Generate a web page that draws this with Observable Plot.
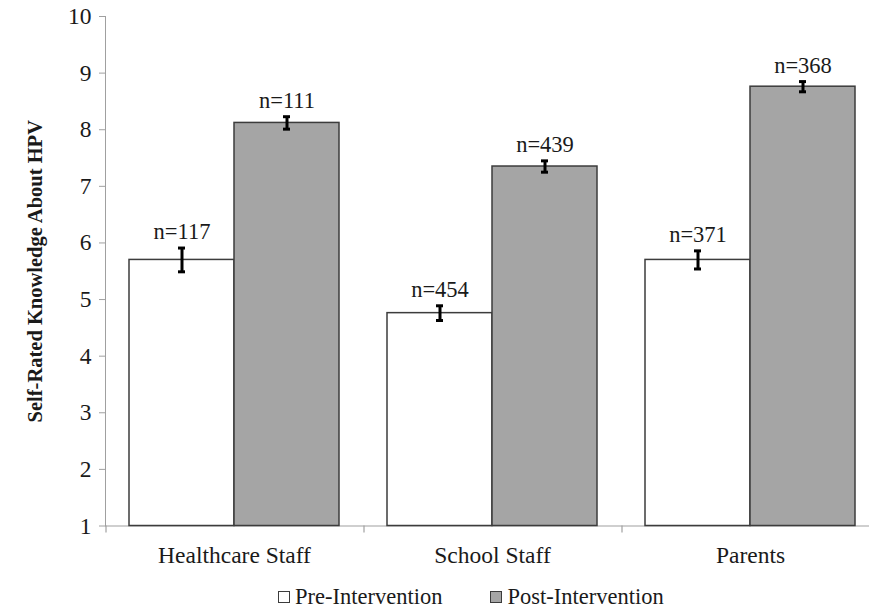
<!DOCTYPE html>
<html>
<head>
<meta charset="utf-8">
<script src="https://cdn.jsdelivr.net/npm/d3@7"></script>
<script src="https://cdn.jsdelivr.net/npm/@observablehq/plot@0.6"></script>
<style>
  html, body { margin: 0; padding: 0; background: #fff; overflow: hidden; }
  #chart svg text { fill: #1a1a1a; }
  #chart svg g[aria-label="y-axis label"] text { font-weight: bold; font-size: 20.5px; }
  #legend { display: flex; align-items: center; padding-left: 278px; margin-top: 13px; height: 24px;
            font-family: "Liberation Serif", "Times New Roman", serif; font-size: 22.5px; color: #1a1a1a; }
  #legend .item { display: flex; align-items: center; }
  #legend .box { width: 12px; height: 12px; border: 1px solid #3c3c3c; margin-right: 5px; box-sizing: border-box; }
</style>
</head>
<body>
<div id="chart"></div>
<div id="legend"></div>
<script>
const categories = ["Healthcare Staff", "School Staff", "Parents"];
const groups = ["Pre-Intervention", "Post-Intervention"];
const preMeans = [5.70, 4.76, 5.70];
const postMeans = [8.12, 7.35, 8.76];
const preErrors = [0.21, 0.13, 0.16];
const postErrors = [0.11, 0.10, 0.09];
const preN = [117, 454, 371];
const postN = [111, 439, 368];
const yTicks = [1, 2, 3, 4, 5, 6, 7, 8, 9, 10];
const yMin = 1, yMax = 10;
const groupColors = ["#ffffff", "#a5a5a5"];

const rows = [];
categories.forEach((c, i) => {
  rows.push({cat: c, group: groups[0], mean: preMeans[i], err: preErrors[i], n: preN[i]});
  rows.push({cat: c, group: groups[1], mean: postMeans[i], err: postErrors[i], n: postN[i]});
});

const axisGray = "#a0a0a0";
const chart = Plot.plot({
  width: 869,
  height: 572,
  marginLeft: 105,
  marginRight: -10,
  marginTop: 16,
  marginBottom: 46.5,
  style: {fontFamily: "'Liberation Serif', 'Times New Roman', serif", fontSize: "23.5px", color: axisGray, background: "#fff"},
  fx: {domain: categories, padding: 0, axis: "bottom", tickSize: 0, tickPadding: 20, label: null},
  x: {domain: groups, paddingInner: 0, paddingOuter: 0.217, axis: null},
  y: {domain: [yMin, yMax], ticks: yTicks, tickSize: 6, tickPadding: 8, line: true,
      label: "Self-Rated Knowledge About HPV", labelAnchor: "center", labelOffset: 78, labelArrow: "none"},
  color: {domain: groups, range: groupColors},
  marks: [
    Plot.ruleY([yMin], {stroke: axisGray, strokeWidth: 1.2}),
    Plot.ruleX(categories, {fx: d => d, x: () => groups[0], dx: -76, y1: yMin, y2: yMin, insetBottom: -7, stroke: axisGray, strokeWidth: 1.2}),
    Plot.barY(rows, {fx: "cat", x: "group", y1: yMin, y2: "mean", fill: "group", stroke: "#3c3c3c", strokeWidth: 1.5}),
    Plot.ruleX(rows, {fx: "cat", x: "group", y1: d => d.mean - d.err, y2: d => d.mean + d.err, stroke: "#000", strokeWidth: 3}),
    Plot.tickY(rows, {fx: "cat", x: "group", y: d => d.mean - d.err, insetLeft: 49, insetRight: 49, stroke: "#000", strokeWidth: 3}),
    Plot.tickY(rows, {fx: "cat", x: "group", y: d => d.mean + d.err, insetLeft: 49, insetRight: 49, stroke: "#000", strokeWidth: 3}),
    Plot.text(rows, {fx: "cat", x: "group", y: d => d.mean + d.err, text: d => "n=" + d.n, dy: -9, lineAnchor: "bottom", fontSize: 22.5})
  ]
});
document.getElementById("chart").appendChild(chart);

const legend = document.getElementById("legend");
groups.forEach((g, i) => {
  const item = document.createElement("div");
  item.className = "item";
  if (i > 0) item.style.marginLeft = "48px";
  const box = document.createElement("div");
  box.className = "box";
  box.style.background = groupColors[i];
  const label = document.createElement("span");
  label.textContent = g;
  item.appendChild(box);
  item.appendChild(label);
  legend.appendChild(item);
});
</script>
</body>
</html>
